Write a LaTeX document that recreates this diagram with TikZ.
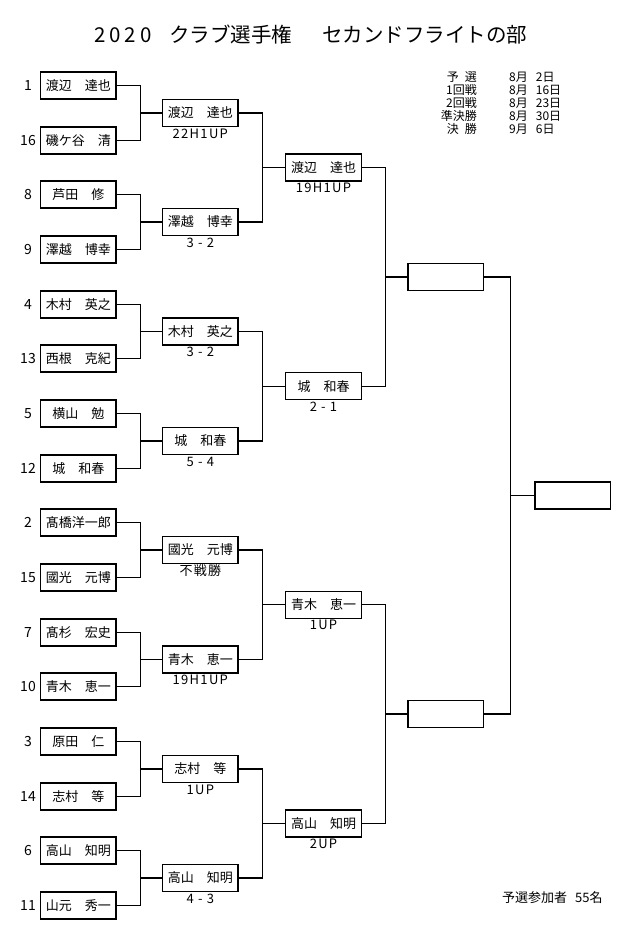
\documentclass[tikz,border=0pt]{standalone}
\usepackage{fontspec}
\usetikzlibrary{calc}
\setmainfont{Noto Sans CJK JP}
\newfontfamily\scfont[LetterSpace=10]{Noto Sans CJK JP}
\newfontfamily\ttlfont[LetterSpace=19]{Noto Sans CJK JP}
\begin{document}
\begin{tikzpicture}[x=1pt,y=-1pt,
  pbox/.style={draw, line width=1.4pt, minimum width=75.5pt, minimum height=27pt, inner sep=0pt, font=\fontsize{13}{13}\selectfont},
  seed/.style={font=\fontsize{14}{14}\selectfont, inner sep=0pt},
  score/.style={font=\scfont\fontsize{13}{13}\selectfont, inner sep=0pt},
  link/.style={line width=1.4pt},
  sched/.style={font=\fontsize{12}{12}\selectfont, inner sep=0pt}]
\useasboundingbox[fill=white] (0,0) rectangle (630,930);
% title
\node[anchor=west, inner sep=0pt, font=\fontsize{20.5}{20.5}\selectfont] (title) at (94,35)
  {{\ttlfont 2020}\hspace{18pt}クラブ選手権\hspace{30pt}セカンドフライトの部};
% schedule
\foreach \k/\l/\d in {0/予\hspace{6pt}選/8月\hspace{8pt}2日, 1/1回戦/8月\hspace{8pt}16日, 2/2回戦/8月\hspace{8pt}23日, 3/準決勝/8月\hspace{8pt}30日, 4/決\hspace{6pt}勝/9月\hspace{8pt}6日}{
  \node[sched, anchor=east] (sl\k) at ({477},{77+13*\k}) {\l};
  \node[sched, anchor=west] (sd\k) at ({509},{77+13*\k}) {\d};
}
% round 1
\foreach \i/\s/\n in {0/1/渡辺　達也, 1/16/磯ケ谷　清, 2/8/芦田　修, 3/9/澤越　博幸,
  4/4/木村　英之, 5/13/西根　克紀, 6/5/横山　勉, 7/12/城　和春,
  8/2/髙橋洋一郎, 9/15/國光　元博, 10/7/髙杉　宏史, 11/10/青木　恵一,
  12/3/原田　仁, 13/14/志村　等, 14/6/高山　知明, 15/11/山元　秀一}{
  \node[pbox] (a\i) at ({78.3},{round(85+54.667*\i)+0.5}) {\n};
  \node[seed] (s\i) at ({28},{round(85+54.667*\i)+0.5}) {\s};
}
% round 2
\foreach \j/\n/\scr in {0/渡辺　達也/22H1UP, 1/澤越　博幸/3 - 2, 2/木村　英之/3 - 2, 3/城　和春/5 - 4,
  4/國光　元博/不戦勝, 5/青木　恵一/19H1UP, 6/志村　等/1UP, 7/高山　知明/4 - 3}{
  \pgfmathtruncatemacro{\p}{2*\j}
  \pgfmathtruncatemacro{\q}{2*\j+1}
  \node[pbox] (b\j) at ($(a\p)!0.5!(a\q) + (122,0)$) {\n};
  \node[score] (bs\j) at ($(b\j) + (0,20.5)$) {\scr};
}
% round 3
\foreach \j/\n/\scr in {0/渡辺　達也/19H1UP, 1/城　和春/2 - 1, 2/青木　恵一/1UP, 3/高山　知明/2UP}{
  \pgfmathtruncatemacro{\p}{2*\j}
  \pgfmathtruncatemacro{\q}{2*\j+1}
  \node[pbox] (c\j) at ($(b\p)!0.5!(b\q) + (123.2,0)$) {\n};
  \node[score] (cs\j) at ($(c\j) + (0,20.5)$) {\scr};
}
% semifinal and final
\node[pbox] (d0) at ($(c0)!0.5!(c1) + (122.2,0)$) {};
\node[pbox] (d1) at ($(c2)!0.5!(c3) + (122.2,0)$) {};
\node[pbox] (f) at ($(d0)!0.5!(d1) + (127.1,0)$) {};
% connectors
\foreach \j in {0,...,7}{
  \pgfmathtruncatemacro{\p}{2*\j}
  \pgfmathtruncatemacro{\q}{2*\j+1}
  \draw[link] (a\p.east) -- ++(24,0) |- (b\j.west);
  \draw[link] (a\q.east) -- ++(24,0) |- (b\j.west);
}
\foreach \j in {0,...,3}{
  \pgfmathtruncatemacro{\p}{2*\j}
  \pgfmathtruncatemacro{\q}{2*\j+1}
  \draw[link] (b\p.east) -- ++(24,0) |- (c\j.west);
  \draw[link] (b\q.east) -- ++(24,0) |- (c\j.west);
}
\draw[link] (c0.east) -- ++(23.3,0) |- (d0.west);
\draw[link] (c1.east) -- ++(23.3,0) |- (d0.west);
\draw[link] (c2.east) -- ++(23.3,0) |- (d1.west);
\draw[link] (c3.east) -- ++(23.3,0) |- (d1.west);
\draw[link] (d0.east) -- ++(26.3,0) |- (f.west);
\draw[link] (d1.east) -- ++(26.3,0) |- (f.west);
% note
\node[anchor=west, inner sep=0pt, font=\fontsize{13}{13}\selectfont] (note) at (502,898) {予選参加者\hspace{8pt}55名};
\end{tikzpicture}
\end{document}
